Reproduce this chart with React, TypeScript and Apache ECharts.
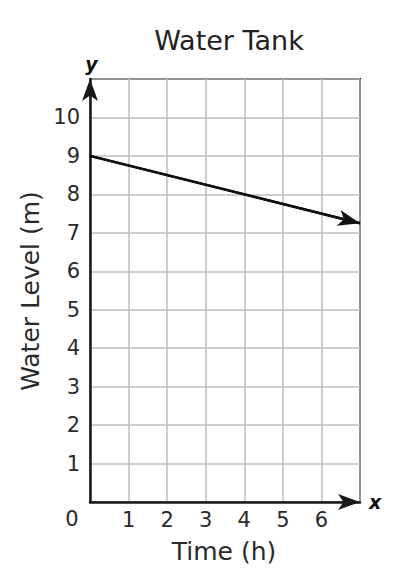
import React, { useEffect, useRef } from "react";
import * as echarts from "echarts";

const title = "Water Tank";
const xAxisTitle = "Time (h)";
const yAxisTitle = "Water Level (m)";
const xMin = 0;
const xMax = 7;
const yMin = 0;
const yMax = 11;
const xTickLabels = ["1", "2", "3", "4", "5", "6"];
const yTickLabels = ["1", "2", "3", "4", "5", "6", "7", "8", "9", "10"];
const lineX = [0, 7];
const lineY = [9, 7.25];

const FONT = "DejaVu Sans";

export default function App() {
  const ref = useRef<HTMLDivElement>(null);
  useEffect(() => {
    if (!ref.current) return;
    const chart = echarts.init(ref.current, null, { renderer: "svg" });
    const points = lineX.map((x, i) => [x, lineY[i]]);
    const left = 90, right = 42, top = 79, bottom = 74;
    chart.setOption({
      animation: false,
      backgroundColor: "#ffffff",
      title: {
        text: title,
        left: 224,
        textAlign: "center",
        top: 22,
        textStyle: { fontFamily: FONT, fontSize: 27, fontWeight: "normal", color: "#222" },
      },
      grid: {
        left, right, top, bottom,
        show: true,
        borderColor: "#1a1a1a",
        borderWidth: 2,
        backgroundColor: "transparent",
      },
      xAxis: {
        type: "value",
        min: xMin,
        max: xMax,
        interval: 1,
        name: "x",
        nameLocation: "end",
        nameGap: 9,
        nameTextStyle: { fontFamily: FONT, fontSize: 19, fontWeight: "bold", fontStyle: "italic", color: "#111", verticalAlign: "middle", padding: [5, 0, 0, 0] },
        axisLine: { show: true, symbol: ["none", "arrow"], symbolSize: [12, 22], lineStyle: { color: "#1a1a1a", width: 2.5 } },
        axisTick: { show: false },
        splitLine: { show: true, lineStyle: { color: "#bdbdbd", width: 1.5 } },
        axisLabel: {
          fontFamily: FONT,
          fontSize: 21,
          color: "#2a2a2a",
          margin: 7,
          formatter: (v: number) => (xTickLabels.includes(String(v)) ? String(v) : ""),
        },
      },
      yAxis: {
        type: "value",
        min: yMin,
        max: yMax,
        interval: 1,
        name: "y",
        nameLocation: "end",
        nameGap: 6,
        nameTextStyle: { fontFamily: FONT, fontSize: 19, fontWeight: "bold", fontStyle: "italic", color: "#111", align: "center", padding: [0, 0, 0, 3] },
        axisLine: { show: true, symbol: ["none", "arrow"], symbolSize: [12, 22], lineStyle: { color: "#1a1a1a", width: 2.5 } },
        axisTick: { show: false },
        splitLine: { show: true, lineStyle: { color: "#bdbdbd", width: 1.5 } },
        axisLabel: {
          fontFamily: FONT,
          fontSize: 21,
          color: "#2a2a2a",
          margin: 10,
          formatter: (v: number) => (yTickLabels.includes(String(v)) ? String(v) : ""),
        },
      },
      graphic: [
        { type: "text", x: 72, y: 519, style: { text: "0", font: `21px '${FONT}'`, fill: "#2a2a2a", align: "center", verticalAlign: "middle" } },
        { type: "text", x: 224, y: 551, style: { text: xAxisTitle, font: `25px '${FONT}'`, fill: "#2a2a2a", align: "center", verticalAlign: "middle" } },
        { type: "text", x: 30, y: 291, rotation: Math.PI / 2, style: { text: yAxisTitle, font: `25px '${FONT}'`, fill: "#2a2a2a", align: "center", verticalAlign: "middle" } },
      ],
      series: [
        {
          type: "line",
          data: points,
          symbol: "none",
          lineStyle: { color: "#111", width: 2.5 },
          markLine: {
            silent: true,
            symbol: ["none", "arrow"],
            symbolSize: [12, 22],
            label: { show: false },
            lineStyle: { color: "#111", width: 2.5, type: "solid" },
            data: [[{ coord: points[0] }, { coord: points[1] }]],
          },
        },
      ],
    });
    return () => chart.dispose();
  }, []);
  return <div ref={ref} style={{ width: 402, height: 576, position: "absolute", left: 0, top: 0 }} />;
}
